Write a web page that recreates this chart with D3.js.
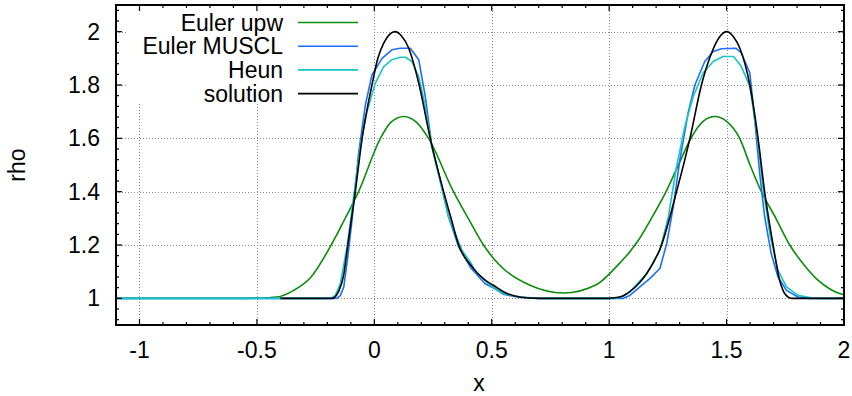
<!DOCTYPE html>
<html lang="en">
<head>
<meta charset="UTF-8">
<title>rho vs x</title>
<script src="https://d3js.org/d3.v7.min.js"></script>
<style>
  body { margin: 0; background: #fff; }
  svg text { font-family: "Liberation Sans", Arial, sans-serif; fill: #000; }
</style>
</head>
<body>
<svg id="chart" width="852" height="396"></svg>
<script>
// series labels (legend order = draw order)
const seriesNames = ["Euler upw", "Euler MUSCL", "Heun", "solution"];

// Euler upwind
const upwX = [-1.1, -0.6, -0.5, -0.414, -0.343, -0.272, -0.187, -0.13, -0.067, 0.026, 0.07, 0.125, 0.18, 0.231, 0.337, 0.4, 0.465, 0.514, 0.55, 0.663, 0.805, 0.947, 1.032, 1.088, 1.12, 1.18, 1.245, 1.3, 1.351, 1.4, 1.45, 1.5, 1.556, 1.6, 1.648, 1.71, 1.769, 1.83, 1.889, 1.94, 1.981, 2.0];
const upwRho = [1, 1, 1.001, 1.005, 1.03, 1.077, 1.195, 1.29, 1.4, 1.6, 1.66, 1.682, 1.66, 1.6, 1.4, 1.3, 1.2, 1.143, 1.111, 1.049, 1.02, 1.052, 1.12, 1.175, 1.212, 1.3, 1.405, 1.51, 1.605, 1.664, 1.682, 1.664, 1.6, 1.5, 1.4, 1.3, 1.2, 1.125, 1.068, 1.035, 1.018, 1.014];

// Euler MUSCL
const musclX = [-1.1, -0.16, -0.145, -0.13, -0.113, -0.095, -0.067, -0.038, -0.01, 0.033, 0.075, 0.11, 0.153, 0.189, 0.217, 0.245, 0.281, 0.316, 0.359, 0.41, 0.472, 0.514, 0.55, 0.62, 0.7, 1.06, 1.088, 1.131, 1.173, 1.216, 1.245, 1.273, 1.301, 1.336, 1.365, 1.407, 1.443, 1.478, 1.539, 1.563, 1.599, 1.62, 1.641, 1.662, 1.69, 1.719, 1.755, 1.804, 1.85, 2.0];
const musclRho = [1, 1, 1.01, 1.043, 1.155, 1.293, 1.544, 1.726, 1.838, 1.9, 1.932, 1.938, 1.938, 1.895, 1.757, 1.569, 1.444, 1.306, 1.193, 1.115, 1.055, 1.036, 1.015, 1.003, 1, 1, 1.011, 1.043, 1.074, 1.112, 1.205, 1.343, 1.519, 1.694, 1.8, 1.888, 1.926, 1.936, 1.938, 1.92, 1.845, 1.669, 1.469, 1.306, 1.168, 1.08, 1.03, 1.005, 1, 1];

// Heun
const heunX = [-1.1, -0.187, -0.166, -0.145, -0.116, -0.088, -0.06, -0.031, 0.004, 0.04, 0.075, 0.11, 0.132, 0.16, 0.189, 0.217, 0.245, 0.316, 0.373, 0.41, 0.43, 0.493, 0.55, 0.62, 0.7, 1.03, 1.06, 1.088, 1.16, 1.216, 1.252, 1.287, 1.322, 1.358, 1.4, 1.443, 1.485, 1.53, 1.563, 1.599, 1.627, 1.655, 1.684, 1.719, 1.755, 1.804, 1.861, 1.9, 2.0];
const heunRho = [1, 1, 1.011, 1.055, 1.193, 1.381, 1.569, 1.7, 1.806, 1.869, 1.895, 1.904, 1.904, 1.888, 1.832, 1.72, 1.569, 1.306, 1.18, 1.135, 1.1, 1.049, 1.018, 1.005, 1, 1, 1.008, 1.024, 1.093, 1.18, 1.306, 1.494, 1.644, 1.757, 1.845, 1.888, 1.907, 1.907, 1.869, 1.794, 1.632, 1.418, 1.243, 1.105, 1.043, 1.011, 1.002, 1, 1];

// exact solution
const solX = [-0.4, -0.18, -0.15, -0.13, -0.113, -0.081, -0.052, -0.01, 0.015, 0.04, 0.065, 0.089, 0.115, 0.146, 0.191, 0.238, 0.295, 0.33, 0.359, 0.41, 0.472, 0.507, 0.55, 0.62, 0.7, 1.0, 1.03, 1.06, 1.088, 1.131, 1.16, 1.223, 1.287, 1.344, 1.393, 1.436, 1.47, 1.5, 1.53, 1.556, 1.599, 1.634, 1.662, 1.698, 1.726, 1.75, 1.776, 2.0];
const solRho = [1, 1, 1.03, 1.09, 1.2, 1.4, 1.6, 1.8, 1.9, 1.957, 1.99, 2.0, 1.985, 1.939, 1.8, 1.6, 1.4, 1.29, 1.2, 1.125, 1.068, 1.049, 1.025, 1.005, 1, 1, 1.003, 1.01, 1.025, 1.06, 1.093, 1.2, 1.4, 1.6, 1.8, 1.92, 1.98, 2.0, 1.98, 1.939, 1.8, 1.6, 1.4, 1.2, 1.068, 1.015, 1, 1];

const xTicks = [-1, -0.5, 0, 0.5, 1, 1.5, 2];
const yTicks = [1, 1.2, 1.4, 1.6, 1.8, 2];

const colors = ["#0b8c0b", "#1c6ff8", "#19c6c6", "#000000"];

const svg = d3.select("#chart");
const L = 116, R = 844, T = 5, B = 325;

const x = d3.scaleLinear().domain([-1.1, 2]).range([L, R]);
const y = d3.scaleLinear().domain([0.9, 2.1]).range([B, T]);

// grid (dotted)
const grid = svg.append("g").attr("stroke", "#888").attr("stroke-width", 1)
  .attr("stroke-dasharray", "1,2");
grid.selectAll(".gx").data(xTicks.filter(d => d > -1.1 && d < 2)).join("line")
  .attr("x1", d => Math.round(x(d)) + 0.5).attr("x2", d => Math.round(x(d)) + 0.5)
  .attr("y1", T).attr("y2", B);
grid.selectAll(".gy").data(yTicks).join("line")
  .attr("y1", d => Math.round(y(d)) + 0.5).attr("y2", d => Math.round(y(d)) + 0.5)
  .attr("x1", L).attr("x2", R);

// key area hides the grid
svg.append("rect").attr("x", 128).attr("y", T + 1).attr("width", 245).attr("height", 98)
  .attr("fill", "#fff");

// curves
const series = [
  { xs: upwX, ys: upwRho, curve: d3.curveMonotoneX },
  { xs: musclX, ys: musclRho, curve: d3.curveLinear },
  { xs: heunX, ys: heunRho, curve: d3.curveLinear },
  { xs: solX, ys: solRho, curve: d3.curveMonotoneX }
];
series.forEach((s, i) => {
  const pts = s.xs.map((v, k) => [v, s.ys[k]]);
  svg.append("path")
    .attr("d", d3.line().x(d => x(d[0])).y(d => y(d[1])).curve(s.curve)(pts))
    .attr("fill", "none")
    .attr("stroke", colors[i])
    .attr("stroke-width", 1.6)
    .attr("stroke-linejoin", "round");
});

// ticks, inward on all four sides
const tk = svg.append("g").attr("stroke", "#000").attr("stroke-width", 1.2);
const xMinor = d3.range(-11, 21).map(v => v / 10);
xMinor.forEach(v => {
  const major = xTicks.some(t => Math.abs(t - v) < 1e-6);
  const len = major ? 6 : 3;
  const px = x(v);
  tk.append("line").attr("x1", px).attr("x2", px).attr("y1", B).attr("y2", B - len);
  tk.append("line").attr("x1", px).attr("x2", px).attr("y1", T).attr("y2", T + len);
});
const yMinor = d3.range(23, 53).map(v => v * 0.04);
yMinor.forEach(v => {
  const major = yTicks.some(t => Math.abs(t - v) < 1e-6);
  const len = major ? 6 : 3;
  const py = y(v);
  tk.append("line").attr("x1", L).attr("x2", L + len).attr("y1", py).attr("y2", py);
  tk.append("line").attr("x1", R).attr("x2", R - len).attr("y1", py).attr("y2", py);
});

// border
svg.append("rect").attr("x", L).attr("y", T).attr("width", R - L).attr("height", B - T)
  .attr("fill", "none").attr("stroke", "#000").attr("stroke-width", 2);

// tick labels (plain hyphen minus, as in the original)
const fs = 23;
svg.append("g").selectAll("text").data(xTicks).join("text")
  .attr("x", d => x(d)).attr("y", 358)
  .attr("text-anchor", "middle").attr("font-size", fs)
  .text(d => String(d));
svg.append("g").selectAll("text").data(yTicks).join("text")
  .attr("x", 100).attr("y", d => y(d) + 8)
  .attr("text-anchor", "end").attr("font-size", fs)
  .text(d => String(d));

// axis titles
svg.append("text").attr("x", 479).attr("y", 391).attr("text-anchor", "middle")
  .attr("font-size", fs).text("x");
svg.append("text").attr("transform", "translate(25,165) rotate(-90)")
  .attr("text-anchor", "middle").attr("font-size", fs).text("rho");

// key
const key = svg.append("g");
seriesNames.forEach((name, i) => {
  const ky = 22.5 + i * 23.7;
  key.append("text").attr("x", 283).attr("y", ky + 8).attr("text-anchor", "end")
    .attr("font-size", fs).text(name);
  key.append("line").attr("x1", 298).attr("x2", 358).attr("y1", ky).attr("y2", ky)
    .attr("stroke", colors[i]).attr("stroke-width", 1.6);
});
</script>
</body>
</html>
